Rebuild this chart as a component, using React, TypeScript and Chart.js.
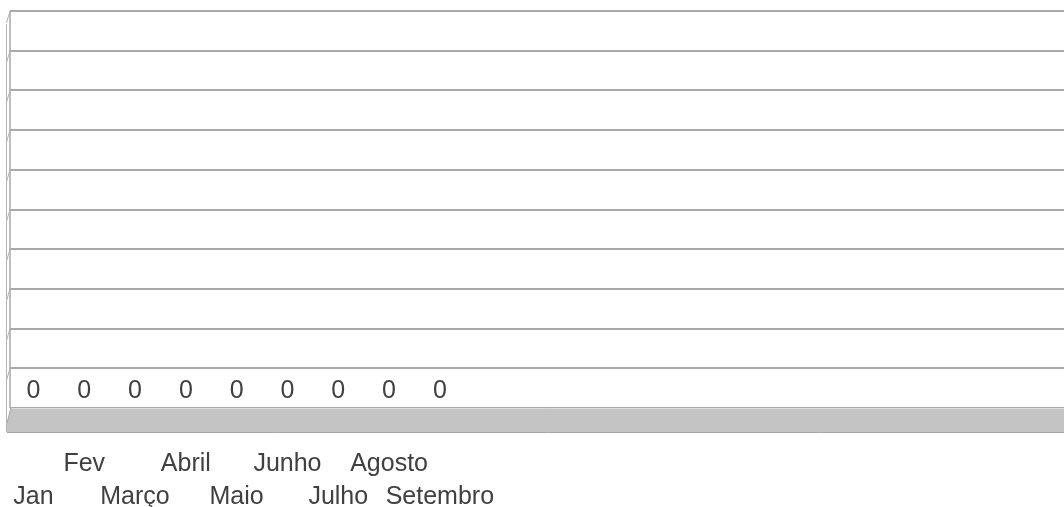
import React, { useEffect, useRef } from 'react';
import { Chart, registerables } from 'chart.js';

Chart.register(...registerables);

// ---- data ----
const months: string[] = ['Jan', 'Fev', 'Março', 'Abril', 'Maio', 'Junho', 'Julho', 'Agosto', 'Setembro'];
const values: number[] = [0, 0, 0, 0, 0, 0, 0, 0, 0];
const emptySlots = 12; // unlabeled category slots continuing to the right
const yMin = 0;
const yMax = 10;
const yStep = 1;

const categories: string[] = [...months, ...Array(emptySlots).fill('')];
const seriesData: (number | null)[] = [...values, ...Array(emptySlots).fill(null)];

const FONT = '"Liberation Sans", Arial, sans-serif';
const TEXT = '#404040';

const decor = {
  id: 'decor',
  beforeDatasetsDraw(chart: any) {
    const { ctx, chartArea } = chart;
    const ys = chart.scales.y;
    const y0 = ys.getPixelForValue(0);
    const W = chart.width;
    ctx.save();
    // clear grid left of the frame (wall area)
    ctx.fillStyle = '#ffffff';
    ctx.fillRect(0, 0, 10, y0 + 30);
    // floor
    ctx.beginPath();
    ctx.moveTo(11, y0);
    ctx.lineTo(W, y0);
    ctx.lineTo(W, y0 + 24);
    ctx.lineTo(7, y0 + 24);
    ctx.lineTo(7, y0 + 15);
    ctx.closePath();
    ctx.fillStyle = '#c4c4c4';
    ctx.fill();
    ctx.lineWidth = 1;
    ctx.strokeStyle = '#dcdcdc';
    ctx.beginPath();
    ctx.moveTo(11, y0 + 0.5);
    ctx.lineTo(W, y0 + 0.5);
    ctx.stroke();
    ctx.strokeStyle = '#a6a6a6';
    ctx.beginPath();
    ctx.moveTo(7, y0 + 24.5);
    ctx.lineTo(W, y0 + 24.5);
    ctx.stroke();
    ctx.beginPath();
    ctx.moveTo(11, y0);
    ctx.lineTo(7, y0 + 15);
    ctx.stroke();
    // frame vertical line
    ctx.strokeStyle = '#a8a8a8';
    ctx.lineWidth = 1.5;
    ctx.beginPath();
    ctx.moveTo(10, chartArea.top);
    ctx.lineTo(10, y0);
    ctx.stroke();
    // wall outer edge
    ctx.strokeStyle = '#b4b4b4';
    ctx.lineWidth = 1;
    ctx.beginPath();
    ctx.moveTo(6.5, chartArea.top + 13);
    ctx.lineTo(6.5, y0 + 24);
    ctx.stroke();
    // wall slants
    ys.ticks.forEach((t: any) => {
      const py = ys.getPixelForValue(t.value);
      if (py < y0 - 1) {
        ctx.beginPath();
        ctx.moveTo(10, py);
        ctx.lineTo(6.5, py + 12);
        ctx.stroke();
      }
    });
    ctx.restore();
  },
  afterDatasetsDraw(chart: any) {
    const { ctx } = chart;
    const ys = chart.scales.y;
    const meta = chart.getDatasetMeta(0);
    ctx.save();
    ctx.font = `25px ${FONT}`;
    ctx.fillStyle = TEXT;
    ctx.textAlign = 'center';
    ctx.textBaseline = 'middle';
    meta.data.forEach((el: any, i: number) => {
      const v = values[i];
      if (v === undefined) return;
      ctx.fillText(String(v), el.x, ys.getPixelForValue(v) - 17);
    });
    ctx.restore();
  },
};

export default function App() {
  const ref = useRef<HTMLCanvasElement | null>(null);

  useEffect(() => {
    if (!ref.current) return;
    const chart = new Chart(ref.current, {
      type: 'bar',
      data: {
        labels: categories,
        datasets: [
          {
            label: 'Série',
            data: seriesData,
            backgroundColor: '#4f81bd',
            borderWidth: 0,
          },
        ],
      },
      options: {
        animation: false,
        responsive: false,
        maintainAspectRatio: false,
        layout: { padding: { left: 8, right: 15, top: 11, bottom: 0 } },
        plugins: {
          legend: { display: false },
          tooltip: { enabled: false },
          title: { display: false },
        },
        scales: {
          x: {
            grid: { display: false, drawTicks: false },
            border: { display: false },
            ticks: {
              autoSkip: false,
              maxRotation: 0,
              minRotation: 0,
              padding: 40,
              color: TEXT,
              font: { family: FONT, size: 25, lineHeight: 1.32 },
              callback: (_v: any, i: number) => {
                const l = categories[i];
                if (!l) return '';
                return i % 2 === 0 ? ['', l] : [l, ''];
              },
            },
            afterFit: (s: any) => {
              s.height = 99;
              s.paddingLeft = 0;
              s.paddingRight = 0;
            },
          },
          y: {
            min: yMin,
            max: yMax,
            grid: { color: '#a9a9a9', lineWidth: 2, drawTicks: false },
            border: { display: false },
            ticks: { display: false, stepSize: yStep },
            afterFit: (s: any) => {
              s.width = 0;
              s.paddingTop = 0;
              s.paddingBottom = 0;
            },
          },
        },
      },
      plugins: [decor],
    });
    return () => chart.destroy();
  }, []);

  return (
    <div style={{ position: 'fixed', left: 0, top: 0, width: 1064, height: 507, overflow: 'hidden', background: '#fff' }}>
      <canvas ref={ref} width={1090} height={507} style={{ width: 1090, height: 507, display: 'block' }} />
    </div>
  );
}
